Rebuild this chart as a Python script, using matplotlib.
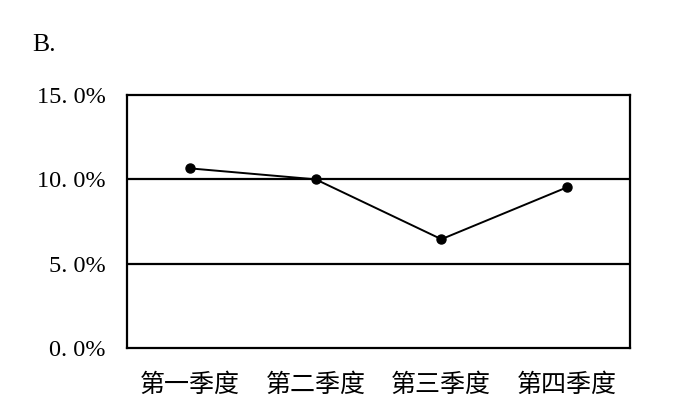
import matplotlib
matplotlib.use("Agg")
import matplotlib.pyplot as plt

categories = ["第一季度", "第二季度", "第三季度", "第四季度"]
values = [10.65, 10.0, 6.45, 9.53]
yticks = [0, 5, 10, 15]
ytick_labels = ["0. 0%", "5. 0%", "10. 0%", "15. 0%"]
title = "B."

fig = plt.figure(figsize=(7, 4.17), dpi=100)
ax = fig.add_axes([127/700, 1-348/417, (630-127)/700, (348-95)/417])

for y in yticks[1:3]:
    ax.axhline(y, color="black", lw=1.6, zorder=1)

x = list(range(len(categories)))
ax.plot(x, values, color="black", lw=1.4, marker="o", ms=6.5, zorder=3)

ax.set_xlim(-0.5, 3.5)
ax.set_ylim(0, 15)
ax.set_yticks(yticks)
ax.set_yticklabels(ytick_labels, fontfamily=["Liberation Serif", "DejaVu Serif"], fontsize=17.5)
ax.set_xticks(x)
ax.set_xticklabels(categories, fontfamily=["Noto Sans CJK SC", "DejaVu Sans"], fontsize=18)
ax.tick_params(axis="both", length=0)
ax.tick_params(axis="y", pad=15.5)
ax.tick_params(axis="x", pad=17)
for s in ax.spines.values():
    s.set_linewidth(1.6)
    s.set_color("black")

fig.text(32/700, 1-45/417, title, fontfamily="Liberation Serif", fontsize=18.5, va="center", ha="left")

fig.savefig("out.png", dpi=100)
